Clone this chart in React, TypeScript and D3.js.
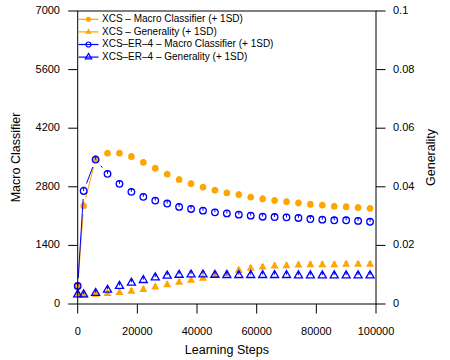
import * as d3 from "d3";

// learning steps at which each run was sampled
const steps = [
  0, 2000, 6000, 10000, 14000, 18000, 22000, 26000, 30000, 34000, 38000, 42000, 46000,
  50000, 54000, 58000, 62000, 66000, 70000, 74000, 78000, 82000, 86000, 90000, 94000, 98000,
];

// XCS
const xcsMacro = [
  420, 2340, 3460, 3600, 3600, 3520, 3380, 3240, 3100, 2970, 2870, 2790, 2715,
  2650, 2610, 2550, 2510, 2470, 2440, 2410, 2380, 2360, 2330, 2320, 2300, 2280,
];
const xcsGenerality = [
  0.0036, 0.0031, 0.0034, 0.0037, 0.004, 0.0045, 0.0051, 0.0059, 0.0067, 0.0075, 0.0082, 0.0089, 0.0099,
  0.0105, 0.0116, 0.0123, 0.0127, 0.0131, 0.0132, 0.0134, 0.0135, 0.0135, 0.0135, 0.0137, 0.0137, 0.0137,
];

// XCS-ER-4
const erMacro = [
  430, 2700, 3450, 3110, 2870, 2680, 2560, 2470, 2400, 2320, 2270, 2230, 2190,
  2165, 2135, 2110, 2085, 2078, 2070, 2055, 2030, 2015, 2000, 2000, 1985, 1965,
];
const erGenerality = [
  0.0034, 0.0034, 0.0039, 0.005, 0.0063, 0.0074, 0.0083, 0.0092, 0.0098, 0.0101, 0.0102, 0.0102, 0.0101,
  0.01, 0.01, 0.01, 0.01, 0.01, 0.01, 0.0099, 0.0099, 0.0099, 0.0099, 0.0099, 0.0099, 0.0099,
];

// one standard deviation (bars are drawn upward only)
const xcsMacroSd = [
  60, 90, 80, 70, 70, 70, 70, 70, 70, 70, 70, 70, 70,
  70, 70, 70, 70, 70, 70, 70, 70, 70, 70, 70, 70, 70,
];
const xcsGeneralitySd = [
  0.0008, 0.0008, 0.0008, 0.0008, 0.0008, 0.0008, 0.0008, 0.0008, 0.0008, 0.0008, 0.0008, 0.0008, 0.0008,
  0.0008, 0.0008, 0.0008, 0.0008, 0.0008, 0.0008, 0.0008, 0.0008, 0.0008, 0.0008, 0.0008, 0.0008, 0.0008,
];
const erMacroSd = [
  60, 90, 80, 70, 70, 70, 70, 70, 70, 70, 70, 70, 70,
  70, 70, 70, 70, 70, 70, 70, 70, 70, 70, 70, 70, 70,
];
const erGeneralitySd = [
  0.0008, 0.0008, 0.0008, 0.0008, 0.0008, 0.0008, 0.0008, 0.0008, 0.0008, 0.0008, 0.0008, 0.0008, 0.0008,
  0.0008, 0.0008, 0.0008, 0.0008, 0.0008, 0.0008, 0.0008, 0.0008, 0.0008, 0.0008, 0.0008, 0.0008, 0.0008,
];

const xTicks = [0, 20000, 40000, 60000, 80000, 100000];
const leftTicks = [0, 1400, 2800, 4200, 5600, 7000];
const rightTicks = [0, 0.02, 0.04, 0.06, 0.08, 0.1];

const legendLabels = [
  "XCS \u2013 Macro Classifier (+ 1SD)",
  "XCS \u2013 Generality (+ 1SD)",
  "XCS\u2013ER\u20134 \u2013 Macro Classifier (+ 1SD)",
  "XCS\u2013ER\u20134 \u2013 Generality (+ 1SD)",
];

const ORANGE = "#FFA500";
const BLUE = "#0000FF";
const FONT = "'Liberation Sans', Arial, Helvetica, sans-serif";

const W = 450;
const H = 360;
const left = 77.7;
const right = 376;
const top = 11;
const bottom = 304;
const tickLen = 9.5;
const gap = 8; // line is broken around each point

const x = d3.scaleLinear().domain([0, 100000]).range([left, right]);
const yL = d3.scaleLinear().domain([0, 7000]).range([bottom, top]);
const yR = d3.scaleLinear().domain([0, 0.1]).range([bottom, top]);

const circlePath = d3.symbol(d3.symbolCircle, 34)()!;
const trianglePath = d3.symbol(d3.symbolTriangle, 28)()!;
const circleSmall = d3.symbol(d3.symbolCircle, 20)()!;
const triangleSmall = d3.symbol(d3.symbolTriangle, 18)()!;

type Series = {
  values: number[];
  sd: number[];
  y: d3.ScaleLinear<number, number>;
  color: string;
  shape: "circle" | "triangle";
  filled: boolean;
};

const series: Series[] = [
  { values: xcsMacro, sd: xcsMacroSd, y: yL, color: ORANGE, shape: "circle", filled: true },
  { values: xcsGenerality, sd: xcsGeneralitySd, y: yR, color: ORANGE, shape: "triangle", filled: true },
  { values: erMacro, sd: erMacroSd, y: yL, color: BLUE, shape: "circle", filled: false },
  { values: erGenerality, sd: erGeneralitySd, y: yR, color: BLUE, shape: "triangle", filled: false },
];

function brokenSegments(pts: [number, number][]) {
  const segs: [number, number, number, number][] = [];
  for (let i = 1; i < pts.length; i++) {
    const [x1, y1] = pts[i - 1];
    const [x2, y2] = pts[i];
    const d = Math.hypot(x2 - x1, y2 - y1);
    if (d <= 2 * gap) continue;
    const ux = (x2 - x1) / d;
    const uy = (y2 - y1) / d;
    segs.push([x1 + ux * gap, y1 + uy * gap, x2 - ux * gap, y2 - uy * gap]);
  }
  return segs;
}

function SeriesMarks({ s }: { s: Series }) {
  const pts: [number, number][] = steps.map((t, i) => [x(t), s.y(s.values[i])]);
  const path = s.shape === "circle" ? circlePath : trianglePath;
  return (
    <g>
      {brokenSegments(pts).map((g, i) => (
        <line key={i} x1={g[0]} y1={g[1]} x2={g[2]} y2={g[3]} stroke={s.color} strokeWidth={1} />
      ))}
      {pts.map(([px, py], i) => {
        const top = s.y(s.values[i] + s.sd[i]);
        const cy = s.shape === "triangle" ? py + 0.5 : py;
        return (
          <g key={i}>
            <path
              d={path}
              transform={`translate(${px},${cy})`}
              fill={s.filled ? s.color : "none"}
              stroke={s.color}
              strokeWidth={s.filled ? 0 : 1.3}
            />
            <line x1={px} x2={px} y1={py} y2={top} stroke={s.color} strokeWidth={1} />
            <line x1={px - 1.5} x2={px + 1.5} y1={top} y2={top} stroke={s.color} strokeWidth={1} />
          </g>
        );
      })}
    </g>
  );
}

export default function App() {
  return (
    <svg
      width={W}
      height={H}
      style={{ position: "absolute", left: 0, top: 0, background: "#fff" }}
      fontFamily={FONT}
    >
      <rect width={W} height={H} fill="#fff" />

      {/* series */}
      {series.map((s, i) => (
        <SeriesMarks key={i} s={s} />
      ))}

      {/* frame */}
      <rect x={left} y={top} width={right - left} height={bottom - top} fill="none" stroke="#000" strokeWidth={1} />

      {/* x axis */}
      {xTicks.map((t) => (
        <g key={t}>
          <line x1={x(t)} x2={x(t)} y1={bottom} y2={bottom + tickLen} stroke="#000" />
          <text x={x(t)} y={332} fontSize={11} textAnchor="middle" dominantBaseline="middle">
            {t}
          </text>
        </g>
      ))}
      <text x={(left + right) / 2} y={351} fontSize={12.5} textAnchor="middle" dominantBaseline="middle">
        Learning Steps
      </text>

      {/* left axis */}
      {leftTicks.map((t) => (
        <g key={t}>
          <line x1={left - tickLen} x2={left} y1={yL(t)} y2={yL(t)} stroke="#000" />
          <text x={60} y={yL(t)} fontSize={11} textAnchor="end" dominantBaseline="middle">
            {t}
          </text>
        </g>
      ))}
      <text
        transform={`translate(17,${(top + bottom) / 2}) rotate(-90)`}
        fontSize={12.5}
        textAnchor="middle"
        dominantBaseline="middle"
      >
        Macro Classifier
      </text>

      {/* right axis */}
      {rightTicks.map((t) => (
        <g key={t}>
          <line x1={right} x2={right + tickLen} y1={yR(t)} y2={yR(t)} stroke="#000" />
          <text x={393} y={yR(t)} fontSize={11} textAnchor="start" dominantBaseline="middle">
            {t}
          </text>
        </g>
      ))}
      <text
        transform={`translate(432,${(top + bottom) / 2}) rotate(-90)`}
        fontSize={12.5}
        textAnchor="middle"
        dominantBaseline="middle"
      >
        Generality
      </text>

      {/* legend */}
      {legendLabels.map((label, i) => {
        const s = series[i];
        const ly = 19.3 + i * 12.6;
        const mp = s.shape === "circle" ? circleSmall : triangleSmall;
        return (
          <g key={label}>
            <line x1={78.5} x2={98.5} y1={ly} y2={ly} stroke={s.color} strokeWidth={1.2} />
            <path
              d={mp}
              transform={`translate(88.5,${ly})`}
              fill={s.filled ? s.color : "none"}
              stroke={s.color}
              strokeWidth={s.filled ? 0 : 1.2}
            />
            <text x={102} y={ly} fontSize={10} dominantBaseline="middle">
              {label}
            </text>
          </g>
        );
      })}
    </svg>
  );
}
